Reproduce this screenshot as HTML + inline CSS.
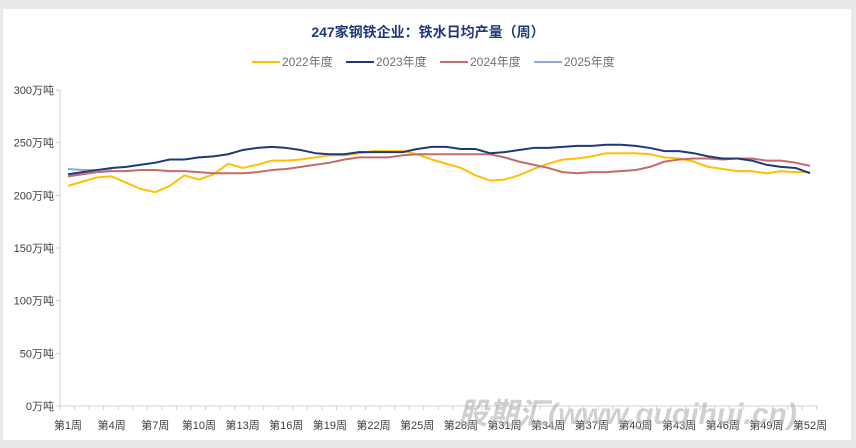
<!DOCTYPE html>
<html><head><meta charset="utf-8"><style>
body{margin:0;background:#e9e9e9;}
#w{position:relative;width:856px;height:448px;overflow:hidden;background:#e9e9e9;font-family:"Liberation Sans","Noto Sans CJK SC",sans-serif;}
#p{position:absolute;left:3px;top:9px;width:848px;height:431px;background:#fff;}
</style></head><body><div id="w"><div id="p"></div>
<svg id="s" width="856" height="448" style="position:absolute;left:0;top:0" font-family="Liberation Sans, Noto Sans CJK SC, sans-serif"></svg>
</div>
<script>
const d={
"#ffc000":[209,213,217,218,212,206,203,209,219,215,220,230,226,229,233,233,234,236,238,238,240,242,242,242,239,234,230,226,219,214,215,219,225,230,234,235,237,240,240,240,239,236,235,232,227,225,223,223,221,223,222,222],
"#c56b6b":[218,220,222,223,223,224,224,223,223,222,221,221,221,222,224,225,227,229,231,234,236,236,236,238,239,239,239,239,239,239,236,232,229,226,222,221,222,222,223,224,227,232,234,235,235,234,235,235,233,233,231,228],
"#8eaadb":[225,224,224,225],
"#1f3a7a":[220,222,224,226,227,229,231,234,234,236,237,239,243,245,246,245,243,240,239,239,241,241,241,241,244,246,246,244,244,240,241,243,245,245,246,247,247,248,248,247,245,242,242,240,237,235,235,233,229,227,226,221]};
const X=w=>68+(w-1)*14.55,Y=v=>406-v*316/300;
let h='';
h+='<line x1="60" y1="90" x2="60" y2="406" stroke="#d0d0d0"/><line x1="60" y1="406" x2="818" y2="406" stroke="#d0d0d0"/>';
for(let i=0;i<=6;i++){let y=406-i*52.67;h+=`<line x1="56" y1="${y}" x2="60" y2="${y}" stroke="#d0d0d0"/><text x="54" y="${y+4}" font-size="11" text-anchor="end" fill="#404040">${i*50}万吨</text>`;}
for(let w=0;w<=52;w++){let x=60+w*14.55;h+=`<line x1="${x}" y1="406" x2="${x}" y2="410" stroke="#d0d0d0"/>`;}
for(let w=1;w<=52;w+=3){h+=`<text x="${X(w)}" y="429" font-size="11" text-anchor="middle" fill="#404040">第${w}周</text>`;}
for(const c in d){h+=`<polyline fill="none" stroke="${c}" stroke-width="2" stroke-linejoin="round" points="${d[c].map((v,i)=>X(i+1)+','+Y(v)).join(' ')}"/>`;}
h+='<text x="428" y="37" font-size="14" font-weight="bold" text-anchor="middle" fill="#1f3a7a">247家钢铁企业：铁水日均产量（周）</text>';
const L=[["#ffc000","2022年度",252],["#1f3a7a","2023年度",346],["#c56b6b","2024年度",440],["#8eaadb","2025年度",534]];
for(const l of L){h+=`<line x1="${l[2]}" y1="62" x2="${l[2]+28}" y2="62" stroke="${l[0]}" stroke-width="2"/><text x="${l[2]+30}" y="66" font-size="12" fill="#707070">${l[1]}</text>`;}
h+='<text x="458" y="424" font-size="30" font-weight="bold" font-style="italic" fill="#b0b0b0" fill-opacity="0.6">股期汇(www.guqihui.cn)</text>';
document.getElementById('s').innerHTML=h;
</script></body></html>
